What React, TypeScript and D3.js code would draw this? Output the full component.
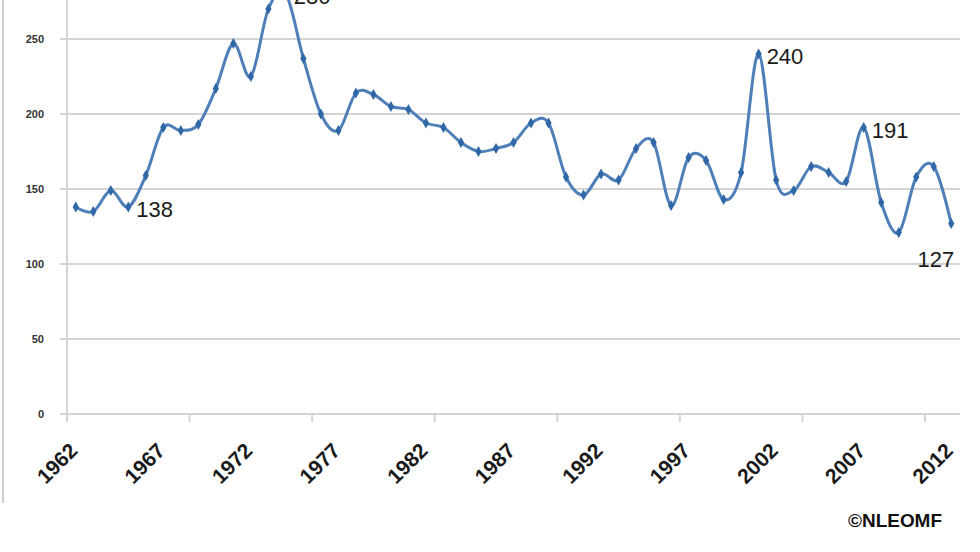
import React from "react";
import * as d3 from "d3";

const years: number[] = [
  1962, 1963, 1964, 1965, 1966, 1967, 1968, 1969, 1970, 1971,
  1972, 1973, 1974, 1975, 1976, 1977, 1978, 1979, 1980, 1981,
  1982, 1983, 1984, 1985, 1986, 1987, 1988, 1989, 1990, 1991,
  1992, 1993, 1994, 1995, 1996, 1997, 1998, 1999, 2000, 2001,
  2002, 2003, 2004, 2005, 2006, 2007, 2008, 2009, 2010, 2011, 2012,
];
const fatalities: number[] = [
  138, 135, 149, 138, 159, 191, 189, 193, 217, 247,
  225, 270, 280, 237, 200, 189, 214, 213, 205, 203,
  194, 191, 181, 175, 177, 181, 194, 194, 158, 146,
  160, 156, 177, 181, 139, 171, 169, 143, 161, 240,
  156, 149, 165, 161, 155, 191, 141, 121, 158, 165, 127,
];
const yTicks: number[] = [0, 50, 100, 150, 200, 250];
const xLabelYears: number[] = [1962, 1967, 1972, 1977, 1982, 1987, 1992, 1997, 2002, 2007, 2012];
const xTickEvery = 7;
const annotatedYears: number[] = [1965, 1974, 2001, 2007, 2012];
const belowYears: number[] = [2012];
const credit = "©NLEOMF";

export default function App() {
  const W = 980, H = 552;
  const left = 67, right = 960, top = 39, bottom = 414;
  const x = d3.scaleBand<number>().domain(years).range([left, right]).padding(0);
  const cx = (yr: number) => (x(yr) as number) + x.bandwidth() / 2;
  const y = d3.scaleLinear().domain([0, 250]).range([bottom, top]);
  const pts = years.map((yr, i) => ({ yr, v: fatalities[i] }));
  const line = d3
    .line<{ yr: number; v: number }>()
    .x((d) => cx(d.yr))
    .y((d) => y(d.v))
    .curve(d3.curveCatmullRom.alpha(0));
  const diamond = d3.symbol().type(d3.symbolDiamond).size(34)();
  const tickYears = years.filter((_, i) => i % xTickEvery === 0);
  const grid = "#d4d4d4";
  const blue = "#4f7fb8";
  const markBlue = "#2f67a7";

  return (
    <svg
      width={W}
      height={H}
      style={{ position: "absolute", left: 0, top: 0, background: "#fff" }}
      fontFamily="'Liberation Sans', Arial, sans-serif"
    >
      <line x1={3} x2={3} y1={0} y2={503} stroke="#cfcfcf" strokeWidth={2} />
      {yTicks.map((t) => (
        <g key={t}>
          <line x1={left - 7} x2={right} y1={y(t)} y2={y(t)} stroke={grid} strokeWidth={2} />
          <text x={44} y={y(t) + 4} textAnchor="end" fontSize={11} fontWeight={600} fill="#333">
            {t}
          </text>
        </g>
      ))}
      <line x1={left} x2={left} y1={0} y2={bottom} stroke={grid} strokeWidth={2} />
      {tickYears.map((yr) => (
        <line key={yr} x1={x(yr)} x2={x(yr)} y1={bottom} y2={bottom + 8} stroke={grid} strokeWidth={2} />
      ))}
      {xLabelYears.map((yr) => (
        <text
          key={yr}
          transform={`translate(${cx(yr) + 3},${452}) rotate(-45)`}
          textAnchor="end"
          fontSize={21}
          fontWeight={700}
          fill="#1a1a1a"
        >
          {yr}
        </text>
      ))}
      <path d={line(pts) || ""} fill="none" stroke={blue} strokeWidth={3} />
      {pts.map((d) => (
        <path key={d.yr} d={diamond || ""} transform={`translate(${cx(d.yr)},${y(d.v)})`} fill={markBlue} />
      ))}
      {pts
        .filter((d) => annotatedYears.includes(d.yr))
        .map((d) => {
          const below = belowYears.includes(d.yr);
          return (
            <text
              key={d.yr}
              x={below ? cx(d.yr) + 3 : cx(d.yr) + 8}
              y={below ? y(d.v) + 43 : y(d.v) + 10}
              textAnchor={below ? "end" : "start"}
              fontSize={22}
              fill="#1a1a1a"
            >
              {d.v}
            </text>
          );
        })}
      <text x={848} y={527} fontSize={19} fontWeight={700} fill="#111" textLength={94} lengthAdjust="spacingAndGlyphs">
        {credit}
      </text>
    </svg>
  );
}
